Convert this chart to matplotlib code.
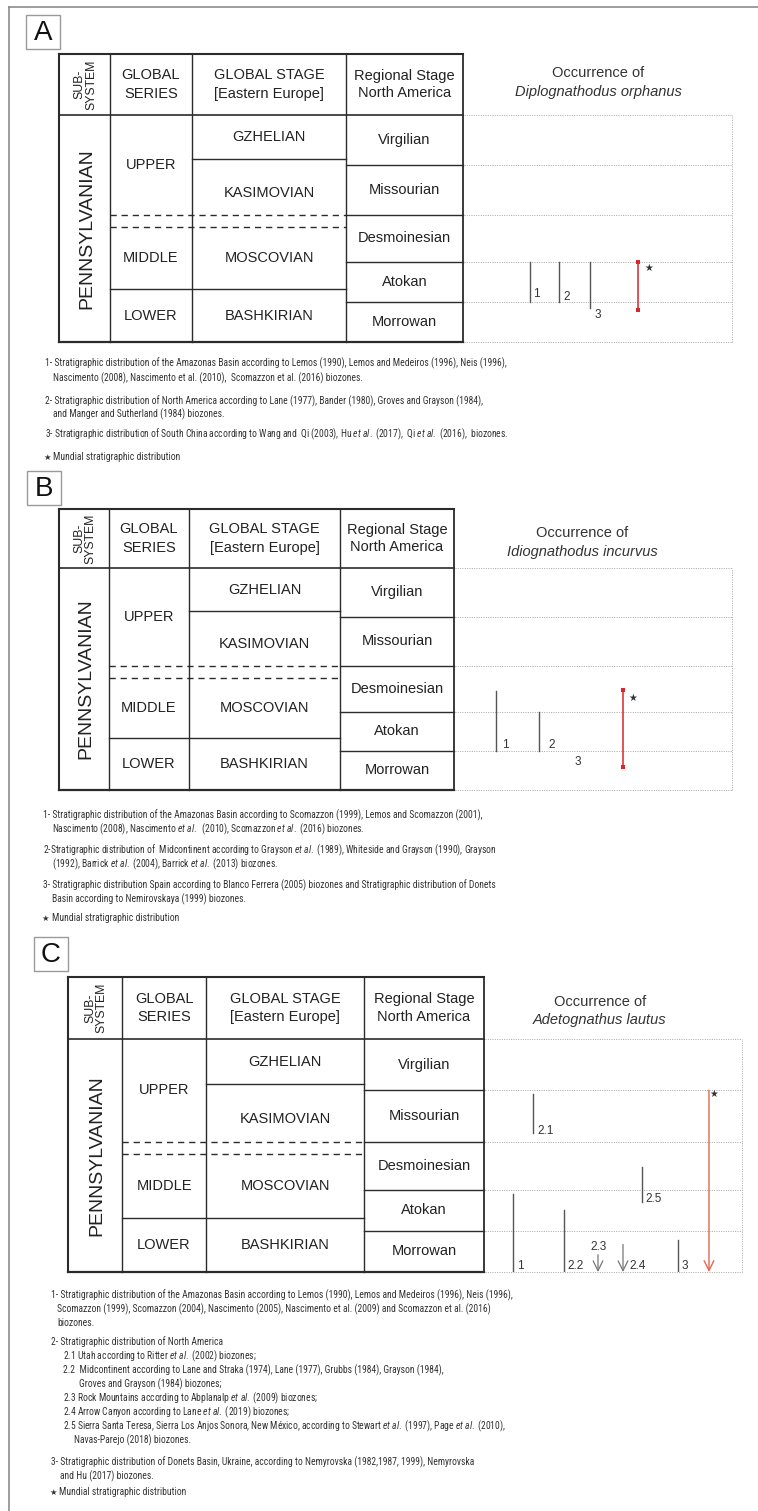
import numpy as np
import matplotlib
matplotlib.use('Agg')
import matplotlib.pyplot as plt
from matplotlib import font_manager
from matplotlib.font_manager import FontProperties
from matplotlib.textpath import TextToPath
from matplotlib.patches import Rectangle

W, H = 758, 1511
SANS = 'Liberation Sans'

# ---------------- data ----------------
# stratigraphic position: 0 = base of Morrowan, one unit per regional stage
regional_stages = ['Morrowan', 'Atokan', 'Desmoinesian', 'Missourian', 'Virgilian']
regional_rows = [40, 40, 47, 50, 50]          # relative thickness of each row in the chart

global_stages = ['BASHKIRIAN', 'MOSCOVIAN', 'KASIMOVIAN', 'GZHELIAN']
global_base = [0.0, 1.325, 2.745, 4.12]
global_top = [1.325, 2.745, 4.12, 5.0]

series = ['LOWER', 'MIDDLE', 'UPPER']
series_base = [0.0, 1.325, 3.0]
series_top = [1.325, 2.745, 5.0]
uncertain_boundary = [2.745, 3.0]             # Moscovian / Kasimovian (dashed)

species = ['Diplognathodus orphanus', 'Idiognathodus incurvus', 'Adetognathus lautus']

# panel A ranges
a_names = ['1', '2', '3']
a_base = [1.0, 1.0, 0.85]
a_top = [2.0, 2.0, 2.0]
a_arrow = [False, False, False]
a_world = (0.8, 2.0)

# panel B ranges (3 has only a label)
b_names = ['1', '2', '3']
b_base = [1.0, 1.0, np.nan]
b_top = [2.45, 2.0, np.nan]
b_arrow = [False, False, False]
b_world = (0.6, 2.47)

# panel C ranges
c_names = ['1', '2.1', '2.2', '2.3', '2.4', '2.5', '3']
c_base = [0.0, 3.16, 0.0, 0.0, 0.0, 1.70, 0.0]
c_top = [1.9, 3.92, 1.5, 0.42, 0.67, 2.47, 0.78]
c_arrow = [False, False, False, True, True, False, False]
c_world = (0.0, 4.0)

ET = r'$\mathit{et\ al.}$'
notes_a = [
    "1- Stratigraphic distribution of the Amazonas Basin according to Lemos (1990), Lemos and Medeiros (1996), Neis (1996),",
    "Nascimento (2008), Nascimento et al. (2010),  Scomazzon et al. (2016) biozones.",
    "2- Stratigraphic distribution of North America according to Lane (1977), Bander (1980), Groves and Grayson (1984),",
    "and Manger and Sutherland (1984) biozones.",
    "3- Stratigraphic distribution of South China according to Wang and  Qi (2003), Hu " + ET + " (2017),  Qi " + ET + " (2016),  biozones.",
    "Mundial stratigraphic distribution",
]
notes_b = [
    "1- Stratigraphic distribution of the Amazonas Basin according to Scomazzon (1999), Lemos and Scomazzon (2001),",
    "Nascimento (2008), Nascimento " + ET + "  (2010), Scomazzon " + ET + " (2016) biozones.",
    "2-Stratigraphic distribution of  Midcontinent according to Grayson " + ET + " (1989), Whiteside and Grayson (1990), Grayson",
    "(1992), Barrick " + ET + " (2004), Barrick " + ET + " (2013) biozones.",
    "3- Stratigraphic distribution Spain according to Blanco Ferrera (2005) biozones and Stratigraphic distribution of Donets",
    "Basin according to Nemirovskaya (1999) biozones.",
    "Mundial stratigraphic distribution",
]
notes_c = [
    "1- Stratigraphic distribution of the Amazonas Basin according to Lemos (1990), Lemos and Medeiros (1996), Neis (1996),",
    "Scomazzon (1999), Scomazzon (2004), Nascimento (2005), Nascimento et al. (2009) and Scomazzon et al. (2016)",
    "biozones.",
    "2- Stratigraphic distribution of North America",
    "2.1 Utah according to Ritter " + ET + " (2002) biozones;",
    "2.2  Midcontinent according to Lane and Straka (1974), Lane (1977), Grubbs (1984), Grayson (1984),",
    "Groves and Grayson (1984) biozones;",
    "2.3 Rock Mountains according to Abplanalp " + ET + " (2009) biozones;",
    "2.4 Arrow Canyon according to Lane " + ET + " (2019) biozones;",
    "2.5 Sierra Santa Teresa, Sierra Los Anjos Sonora, New México, according to Stewart " + ET + " (1997), Page " + ET + " (2010),",
    "Navas-Parejo (2018) biozones.",
    "3- Stratigraphic distribution of Donets Basin, Ukraine, according to Nemyrovska (1982,1987, 1999), Nemyrovska",
    "and Hu (2017) biozones.",
    "Mundial stratigraphic distribution",
]

# ---------------- note font: narrowest available, sized to the note width ----------------
t2p = TextToPath()


def width_pt(s, fam, size):
    return t2p.get_text_width_height_descent(s, FontProperties(family=fam, size=size), ismath=False)[0]


candidates = ['Liberation Sans Narrow', 'Roboto Condensed', 'Liberation Sans', 'Roboto']
available = []
for fam in candidates:
    try:
        font_manager.findfont(FontProperties(family=fam), fallback_to_default=False)
        available.append(fam)
    except ValueError:
        pass
ref_line = notes_a[0]
NARROW = min(available, key=lambda f: width_pt(ref_line, f, 10))
FS_NOTE = 10 * 458 / (width_pt(ref_line, NARROW, 10) * 100 / 72)
FS_NOTE = min(FS_NOTE, 8.0)

plt.rcParams['font.family'] = [SANS, 'DejaVu Sans']
plt.rcParams['mathtext.fontset'] = 'custom'
plt.rcParams['mathtext.rm'] = NARROW
plt.rcParams['mathtext.it'] = NARROW + ':italic'

# ---------------- layout (pixels) ----------------
panels = [
    dict(letter='A', box=(26, 15), cols=[59, 110, 192, 346, 463], top=54, hb=115, bot=342, right=732,
         title=(598, 73, 92), xs=[530, 559, 590], wx=638,
         labels=[(533, 1.2), (563, 1.125), (595, 0.675)], star=(649, 1.85),
         names=a_names, base=a_base, tops=a_top, arrow=a_arrow, world=a_world, world_arrow=False,
         red='#d9262b', notes=notes_a,
         note_xy=[(45, 363), (53, 378), (45, 401), (53, 414), (45, 434), (53, 457)], star_note=(47, 457)),
    dict(letter='B', box=(27, 471), cols=[59, 109, 189, 340, 454], top=509, hb=568, bot=790, right=732,
         title=(582, 533, 552), xs=[496, 539, 578], wx=623,
         labels=[(502, 1.15), (548, 1.15), (575, 0.72)], star=(633, 2.29),
         names=b_names, base=b_base, tops=b_top, arrow=b_arrow, world=b_world, world_arrow=False,
         red='#d9262b', notes=notes_b,
         note_xy=[(43, 815), (52, 829), (43, 850), (52, 864), (43, 885), (52, 899), (52, 918)], star_note=(45, 918)),
    dict(letter='C', box=(34, 937), cols=[68, 122, 206, 364, 484], top=977, hb=1039, bot=1272, right=742,
         title=(600, 1002, 1020), xs=[513, 533, 564, 598, 623, 642, 678], wx=709,
         labels=[(517, 0.14), (537, 3.2), (567, 0.14), (590, 0.62), (629, 0.14), (645, 1.79), (682, 0.14)],
         star=(714, 3.92),
         names=c_names, base=c_base, tops=c_top, arrow=c_arrow, world=c_world, world_arrow=True,
         red='#e2674b', notes=notes_c,
         note_xy=[(51, 1295), (57, 1309), (57, 1323), (51, 1342), (63, 1356), (63, 1370), (79, 1384),
                  (63, 1398), (63, 1412), (63, 1426), (74, 1440), (51, 1462), (60, 1476), (59, 1492)],
         star_note=(53, 1492)),
]

LINE = '#2b2b2b'
TXT = '#222222'
NOTE = '#333333'
RANGE = '#555555'
DOT = '#a5a5a5'
FS_TAB = 10.5

cum = np.concatenate([[0], np.cumsum(regional_rows)]).astype(float)
edges = np.arange(len(cum), dtype=float)


def fwd(y):
    return np.interp(y, edges, cum)


def inv(v):
    return np.interp(v, cum, edges)


def mid(a, b):
    return float(inv((fwd(a) + fwd(b)) / 2))


fig = plt.figure(figsize=(W / 100, H / 100), dpi=100)
ov = fig.add_axes([0, 0, 1, 1])
ov.set_xlim(0, W)
ov.set_ylim(H, 0)
ov.axis('off')

# page frame
ov.plot([9, 9], [7, H], color='#8c8c8c', lw=1.2)
ov.plot([9, W], [7, 7], color='#8c8c8c', lw=1.2)

for k, p in enumerate(panels):
    c0, c1, c2, c3, c4 = p['cols']
    top, hb, bot, right = p['top'], p['hb'], p['bot'], p['right']

    # letter box
    bx, by = p['box']
    ov.add_patch(Rectangle((bx, by), 34, 34, fc='white', ec='#9a9a9a', lw=1.0))
    ov.text(bx + 17, by + 18, p['letter'], ha='center', va='center', fontsize=20, color='#111111')

    # header frame and column rules
    ov.plot([c0, c4], [top, top], color=LINE, lw=1.5, solid_capstyle='projecting')
    ov.plot([c0, c0], [top, bot], color=LINE, lw=1.5)
    ov.plot([c4, c4], [top, bot], color=LINE, lw=1.3)
    for cx in (c1, c2, c3):
        ov.plot([cx, cx], [top, bot], color=LINE, lw=1.0)
    ov.plot([c0, c4], [hb, hb], color=LINE, lw=1.2)

    hy = (top + hb) / 2
    ov.text((c0 + c1) / 2 + 1, hy, 'SUB-\nSYSTEM', rotation=90, ha='center', va='center',
            fontsize=8.8, color=TXT, linespacing=0.95)
    ov.text((c1 + c2) / 2, hy, 'GLOBAL\nSERIES', ha='center', va='center', fontsize=FS_TAB,
            color=TXT, linespacing=1.38)
    ov.text((c2 + c3) / 2, hy, 'GLOBAL STAGE\n[Eastern Europe]', ha='center', va='center',
            fontsize=FS_TAB, color=TXT, linespacing=1.38)
    ov.text((c3 + c4) / 2, hy, 'Regional Stage\nNorth America', ha='center', va='center',
            fontsize=FS_TAB, color=TXT, linespacing=1.3)

    # occurrence title
    tx, ty1, ty2 = p['title']
    ov.text(tx, ty1, 'Occurrence of', ha='center', va='center', fontsize=10.5, color='#333333')
    ov.text(tx, ty2, species[k], ha='center', va='center', fontsize=10.5, color='#333333',
            style='italic')

    # body axes in stratigraphic units
    ax = fig.add_axes([c0 / W, 1 - bot / H, (right - c0) / W, (bot - hb) / H])
    ax.set_yscale('function', functions=(fwd, inv))
    ax.set_xlim(c0, right)
    ax.set_ylim(0, 5)
    ax.axis('off')

    ax.plot([c0, c4], [0, 0], color=LINE, lw=1.6, clip_on=False)
    for b in edges[1:-1]:
        ax.plot([c3, c4], [b, b], color=LINE, lw=1.0, clip_on=False)
    for b in global_base[1:]:
        if b in uncertain_boundary:
            continue
        x_from = c1 if b in series_base else c2
        ax.plot([x_from, c3], [b, b], color=LINE, lw=1.0, clip_on=False)
    for b in uncertain_boundary:
        ax.plot([c1, c3], [b, b], color=LINE, lw=1.0, ls=(0, (4.5, 3.5)), clip_on=False)

    # dotted guide lines for occurrence area
    for b in edges:
        ax.plot([c4 + 1, right], [b, b], color=DOT, lw=0.7, ls=(0, (1, 1.4)), clip_on=False)
    ax.plot([right, right], [0, 5], color=DOT, lw=0.7, ls=(0, (1, 1.4)), clip_on=False)

    # table labels
    ax.text((c0 + c1) / 2 + 2, 0.5, 'PENNSYLVANIAN', rotation=90, ha='center', va='center',
            fontsize=14, color=TXT, transform=ax.get_xaxis_transform())
    for name, b0, b1 in zip(series, series_base, series_top):
        ax.text((c1 + c2) / 2, mid(b0, b1), name, ha='center', va='center', fontsize=FS_TAB, color=TXT)
    for name, b0, b1 in zip(global_stages, global_base, global_top):
        if name == 'MOSCOVIAN':
            b0, b1 = global_base[1], uncertain_boundary[0]
        ax.text((c2 + c3) / 2, mid(b0, b1), name, ha='center', va='center', fontsize=FS_TAB, color=TXT)
    for i, name in enumerate(regional_stages):
        ax.text((c3 + c4) / 2, mid(edges[i], edges[i + 1]), name, ha='center', va='center',
                fontsize=FS_TAB, color=TXT)

    # stratigraphic ranges
    for x, b0, b1, arr in zip(p['xs'], p['base'], p['tops'], p['arrow']):
        if np.isnan(b0):
            continue
        if arr:
            ax.annotate('', xy=(x, b0), xytext=(x, b1),
                        arrowprops=dict(arrowstyle='->,head_length=0.7,head_width=0.35', color='#777777',
                                        lw=0.9, shrinkA=0, shrinkB=0, mutation_scale=10))
        else:
            ax.plot([x, x], [b0, b1], color=RANGE, lw=1.0)
    for (lx, ly), name in zip(p['labels'], p['names']):
        ax.text(lx, ly, name, ha='left', va='center', fontsize=8.5, color='#333333')

    w0, w1 = p['world']
    if p['world_arrow']:
        ax.annotate('', xy=(p['wx'], w0), xytext=(p['wx'], w1),
                    arrowprops=dict(arrowstyle='->,head_length=0.7,head_width=0.35', color=p['red'],
                                    lw=1.0, shrinkA=0, shrinkB=0, mutation_scale=10))
    else:
        ax.plot([p['wx'], p['wx']], [w0, w1], color=p['red'], lw=1.1, marker='s', markersize=3.2,
                markeredgewidth=0)
    sx, sy = p['star']
    ax.text(sx, sy, '\u2605', ha='center', va='center', fontsize=7, color='#333333',
            family='DejaVu Sans')

    # footnotes
    for (nx, ny), s in zip(p['note_xy'], p['notes']):
        ov.text(nx, ny, s, ha='left', va='center', fontsize=FS_NOTE, color=NOTE, family=NARROW)
    sx, sy = p['star_note']
    ov.text(sx, sy, '\u2605', ha='center', va='center', fontsize=6, color=NOTE, family='DejaVu Sans')

fig.savefig('out.png', dpi=100, facecolor='white')
